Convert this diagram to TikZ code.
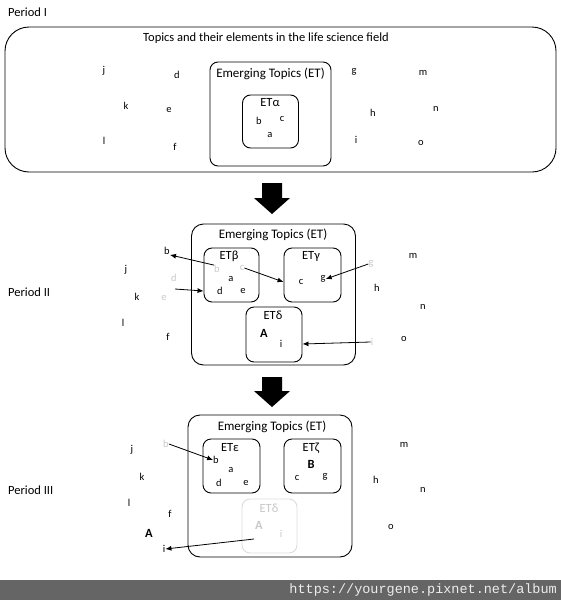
\documentclass[tikz,border=0pt]{standalone}
\usepackage{fontspec}
\setmainfont{Carlito}
\setmonofont{Liberation Mono}
\usetikzlibrary{arrows.meta}
\definecolor{fadec}{HTML}{C8C8C8}
\definecolor{fadebox}{HTML}{DCDCDC}
\definecolor{barc}{HTML}{656565}
\definecolor{bartext}{HTML}{EDEDED}
\begin{document}
\begin{tikzpicture}[x=1pt,y=-1pt,
  lt/.style={font=\fontsize{10.5}{10.5}\selectfont, inner sep=0pt},
  fd/.style={lt, text=fadec},
  captext/.style={font=\fontsize{12.5}{12.5}\selectfont, inner sep=0pt},
  ttl/.style={font=\fontsize{13}{13}\selectfont, inner sep=0pt},
  sttl/.style={font=\fontsize{12.5}{12.5}\selectfont, inner sep=0pt},
  plabel/.style={font=\fontsize{12.5}{12.5}\selectfont, inner sep=0pt, anchor=west},
  bigA/.style={font=\fontsize{12.5}{12.5}\selectfont\bfseries, inner sep=0pt},
  fdA/.style={bigA, text=fadec},
  box/.style={draw, line width=0.9pt, rounded corners=8pt, inner sep=0pt},
  etbox/.style={draw, line width=0.9pt, rounded corners=12pt, inner sep=0pt},
  fbox/.style={draw=fadebox, line width=0.9pt, rounded corners=8pt, inner sep=0pt},
  arr/.style={-{Latex[length=6pt,width=5pt]}, line width=0.8pt},
  bigarrow/.style={fill=black}
]
\useasboundingbox (0,0) rectangle (561,600);

% ---------------- Period I ----------------
\node[plabel] (p1) at (8,12) {Period I};
\node[draw, line width=0.9pt, rounded corners=24pt, minimum width=551pt, minimum height=145pt, inner sep=0pt] (world1) at (280.5,99.5) {};
\node[captext] (t1) at (266,38) {Topics and their elements in the life science field};
\node[box, minimum width=121pt, minimum height=104pt] (et1) at (270.5,114) {};
\node[ttl] (et1t) at (270.5,74) {Emerging Topics (ET)};
\node[box, minimum width=56pt, minimum height=53pt] (al) at (270.5,121.5) {};
\node[sttl] (alt) at (270,103) {ETα};
\node[lt] (al-b) at (259,121) {b};
\node[lt] (al-c) at (282,119) {c};
\node[lt] (al-a) at (270,135) {a};
\node[lt] (p1j) at (104,71) {j};
\node[lt] (p1d) at (177,75) {d};
\node[lt] (p1k) at (126,106) {k};
\node[lt] (p1e) at (169,110) {e};
\node[lt] (p1l) at (104,141) {l};
\node[lt] (p1f) at (175,147) {f};
\node[lt] (p1g) at (354,72) {g};
\node[lt] (p1m) at (423,73) {m};
\node[lt] (p1h) at (373,113) {h};
\node[lt] (p1n) at (436,109) {n};
\node[lt] (p1i) at (356,140) {i};
\node[lt] (p1o) at (421,143) {o};

% big arrow 1
\fill[bigarrow] (262,183) -- (282,183) -- (282,198) -- (290,198) -- (272,214) -- (254,198) -- (262,198) -- cycle;

% ---------------- Period II ----------------
\node[plabel] (p2) at (8,292) {Period II};
\node[etbox, minimum width=164pt, minimum height=141pt] (et2) at (273.5,294.5) {};
\node[ttl] (et2t) at (273,235) {Emerging Topics (ET)};
\node[box, minimum width=55pt, minimum height=54pt] (be) at (231.5,275) {};
\node[box, minimum width=57pt, minimum height=54pt] (ga) at (312.5,275) {};
\node[box, minimum width=56pt, minimum height=55pt] (de) at (274,334.5) {};
\node[sttl] (bet) at (229,256) {ETβ};
\node[sttl] (gat) at (311,256) {ETγ};
\node[sttl] (det) at (273,315) {ETδ};
\node[fd] (be-b) at (217,269) {b};
\node[fd] (be-c) at (242,268) {c};
\node[lt] (be-a) at (231,279) {a};
\node[lt] (be-d) at (220,291) {d};
\node[lt] (be-e) at (243,291) {e};
\node[lt] (ga-c) at (301,282) {c};
\node[lt] (ga-g) at (323,279) {g};
\node[bigA] (de-A) at (264,333) {A};
\node[lt] (de-i) at (281,344) {i};
\node[lt] (p2b) at (167,251) {b};
\node[lt] (p2j) at (126,270) {j};
\node[fd] (p2d) at (174,278) {d};
\node[lt] (p2k) at (137,297) {k};
\node[fd] (p2e) at (164,298) {e};
\node[lt] (p2l) at (123,323) {l};
\node[lt] (p2f) at (168,337) {f};
\node[fd] (p2g) at (371,264) {g};
\node[lt] (p2m) at (413,256) {m};
\node[lt] (p2h) at (377,288) {h};
\node[lt] (p2n) at (423,307) {n};
\node[fd] (p2i) at (372,342) {i};
\node[lt] (p2o) at (404,339) {o};
\coordinate (p2src) at (175,289);
\draw[arr] (be-b.north west) -- (p2b.south east);
\draw[arr] (p2src) -- (be.west |- be-d);
\draw[arr] (be-c.east) -- (ga.west |- ga-c);
\draw[arr] (p2g.west) -- (ga-g.east);
\draw[arr] (p2i.west) -- (de.east |- de-i);

% big arrow 2
\fill[bigarrow] (262,377) -- (282,377) -- (282,391) -- (290,391) -- (272,407) -- (254,391) -- (262,391) -- cycle;

% ---------------- Period III ----------------
\node[plabel] (p3) at (8,490) {Period III};
\node[etbox, minimum width=164pt, minimum height=142pt] (et3) at (270,486) {};
\node[ttl] (et3t) at (272,427) {Emerging Topics (ET)};
\node[box, minimum width=57pt, minimum height=54pt] (ep) at (231.5,466) {};
\node[box, minimum width=57pt, minimum height=54pt] (ze) at (312.5,466) {};
\node[fbox, minimum width=55pt, minimum height=54pt] (fde) at (269.5,526) {};
\node[sttl] (ept) at (230,448) {ETε};
\node[sttl] (zet) at (311,448) {ETζ};
\node[sttl, text=fadec] (fdet) at (269,508) {ETδ};
\node[lt] (ep-b) at (216,460) {b};
\node[lt] (ep-a) at (231,470) {a};
\node[lt] (ep-d) at (219,483) {d};
\node[lt] (ep-e) at (246,483) {e};
\node[bigA] (ze-B) at (311,464) {B};
\node[lt] (ze-c) at (297,478) {c};
\node[lt] (ze-g) at (325,477) {g};
\node[fdA] (fde-A) at (259,525) {A};
\node[fd] (fde-i) at (281,534) {i};
\node[fd] (p3b) at (166,444) {b};
\node[lt] (p3j) at (132,450) {j};
\node[lt] (p3k) at (142,477) {k};
\node[lt] (p3l) at (129,503) {l};
\node[lt] (p3f) at (170,514) {f};
\node[bigA] (p3A) at (149,533) {A};
\node[lt] (p3i) at (164,549) {i};
\node[lt] (p3m) at (404,445) {m};
\node[lt] (p3h) at (376,480) {h};
\node[lt] (p3n) at (423,490) {n};
\node[lt] (p3o) at (391,527) {o};
\coordinate (p3src) at (254,539);
\draw[arr] (p3b.east) -- (ep-b.west);
\draw[arr] (p3src) -- (p3i.east);

% ---------------- footer ----------------
\fill[barc] (0,580) rectangle (561,600);
\node[font=\ttfamily\fontsize{13.5}{13.5}\selectfont, text=bartext, anchor=east, inner sep=0pt] (url) at (557,590) {https://yourgene.pixnet.net/album};
\end{tikzpicture}
\end{document}
